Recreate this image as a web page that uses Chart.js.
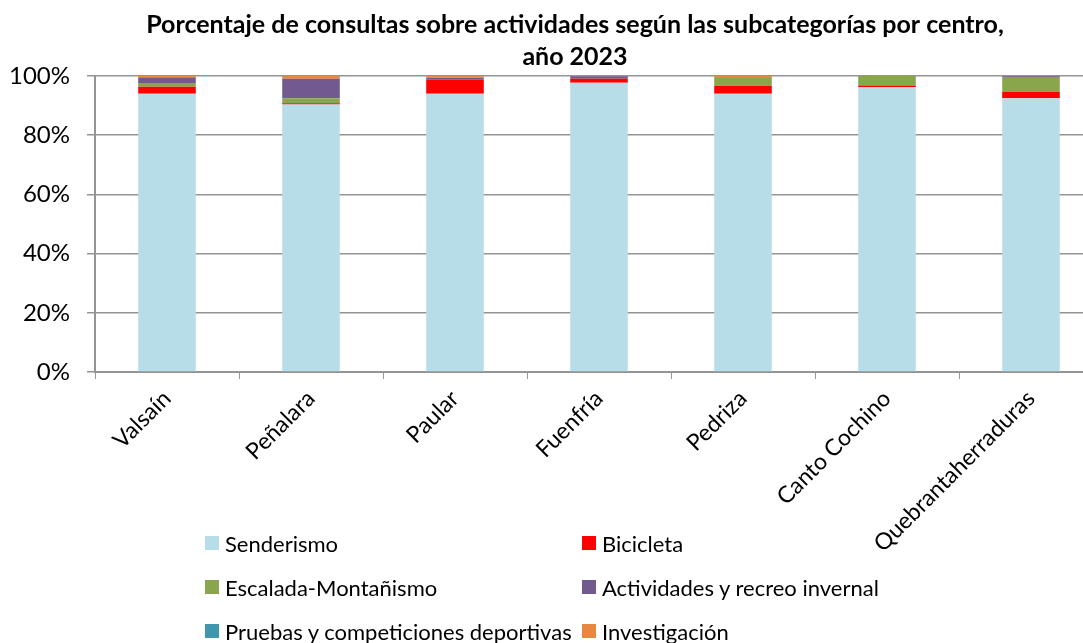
<!DOCTYPE html>
<html>
<head>
<meta charset="utf-8">
<script src="https://cdn.jsdelivr.net/npm/chart.js@4.4.0/dist/chart.umd.min.js"></script>
<style>
    html, body { margin: 0; padding: 0; background: #fff; overflow: hidden; }
    #wrap { position: relative; width: 1150px; height: 643px; }
    #box { position: absolute; left: 0; top: 0; width: 1150px; height: 620px; }
    #leyenda { position: absolute; left: 205px; top: 527px; display: grid;
        grid-template-columns: 377px 400px; grid-auto-rows: 44px;
        font-family: Lato, sans-serif; font-size: 22px; color: #000; }
    #leyenda div { display: flex; align-items: center; height: 32px; white-space: nowrap; }
    #leyenda span { display: inline-block; width: 14px; height: 14px; margin-right: 6px; }
</style>
</head>
<body>
<div id="wrap">
    <div id="box"><canvas id="grafico"></canvas></div>
    <div id="leyenda"></div>
</div>
<script>
// Centros y porcentajes por subcategoría
var centros = ["Valsaín", "Peñalara", "Paular", "Fuenfría", "Pedriza", "Canto Cochino", "Quebrantaherraduras"];
var senderismo = [94.0, 90.4, 94.0, 97.7, 94.0, 96.2, 92.5];
var bicicleta = [2.4, 0.4, 4.7, 1.4, 2.7, 0.6, 2.2];
var escalada = [1.2, 1.7, 0, 0, 2.6, 3.2, 4.7];
var invernal = [1.9, 6.6, 0.7, 0.8, 0.2, 0, 0.5];
var pruebas = [0.2, 0, 0.1, 0, 0, 0, 0];
var investigacion = [0.3, 0.9, 0.5, 0.1, 0.5, 0, 0.1];
var ticksY = [0, 20, 40, 60, 80, 100];

var gris = '#949494';

var ctx = document.getElementById('grafico').getContext('2d');
var myChart = new Chart(ctx, {
    type: 'bar',
    data: {
        labels: centros,
        datasets: [
            { label: 'Senderismo', data: senderismo, backgroundColor: '#b7dde8' },
            { label: 'Bicicleta', data: bicicleta, backgroundColor: '#ff0000' },
            { label: 'Escalada-Montañismo', data: escalada, backgroundColor: '#8aa64c' },
            { label: 'Actividades y recreo invernal', data: invernal, backgroundColor: '#725a8f' },
            { label: 'Pruebas y competiciones deportivas', data: pruebas, backgroundColor: '#3f97ad' },
            { label: 'Investigación', data: investigacion, backgroundColor: '#e8873f' }
        ]
    },
    options: {
        responsive: true,
        maintainAspectRatio: false,
        animation: false,
        datasets: { bar: { barPercentage: 0.4, categoryPercentage: 1 } },
        plugins: {
            legend: { display: false },
            tooltip: { enabled: false },
            title: {
                display: true,
                text: ['Porcentaje de consultas sobre actividades según las subcategorías por centro,', 'año 2023'],
                color: '#000',
                font: { family: 'Lato', size: 25, weight: 'bold', lineHeight: 1.28 },
                padding: { top: 9, bottom: 3 }
            }
        },
        scales: {
            x: {
                stacked: true,
                grid: { drawOnChartArea: false, drawTicks: true, tickLength: 7, color: gris },
                border: { color: gris, width: 2 },
                ticks: {
                    maxRotation: 45, minRotation: 45, autoSkip: false, padding: 6,
                    color: '#000', font: { family: 'Lato', size: 23 }
                },
                afterFit: function (s) { s.height = 248; }
            },
            y: {
                stacked: true,
                min: 0,
                max: 100,
                afterBuildTicks: function (s) { s.ticks = ticksY.map(function (v) { return { value: v }; }); },
                grid: { color: gris, lineWidth: 1.5, drawTicks: true, tickLength: 8 },
                border: { color: gris, width: 2 },
                ticks: {
                    padding: 17, color: '#000', font: { family: 'Lato', size: 24 },
                    callback: function (v) { return v + '%'; }
                },
                afterFit: function (s) { s.width = 95; }
            },
            // eje vacío a la derecha: reserva el margen sin descentrar el título
            margen: {
                position: 'right',
                grid: { display: false },
                border: { display: false },
                ticks: { display: false },
                afterFit: function (s) { s.width = 47; }
            }
        }
    }
});

// Leyenda en HTML, en dos columnas como el original
var html = '';
myChart.data.datasets.forEach(function (d) {
    html += '<div><span style="background:' + d.backgroundColor + '"></span>' + d.label + '</div>';
});
document.getElementById('leyenda').innerHTML = html;
</script>
</body>
</html>
